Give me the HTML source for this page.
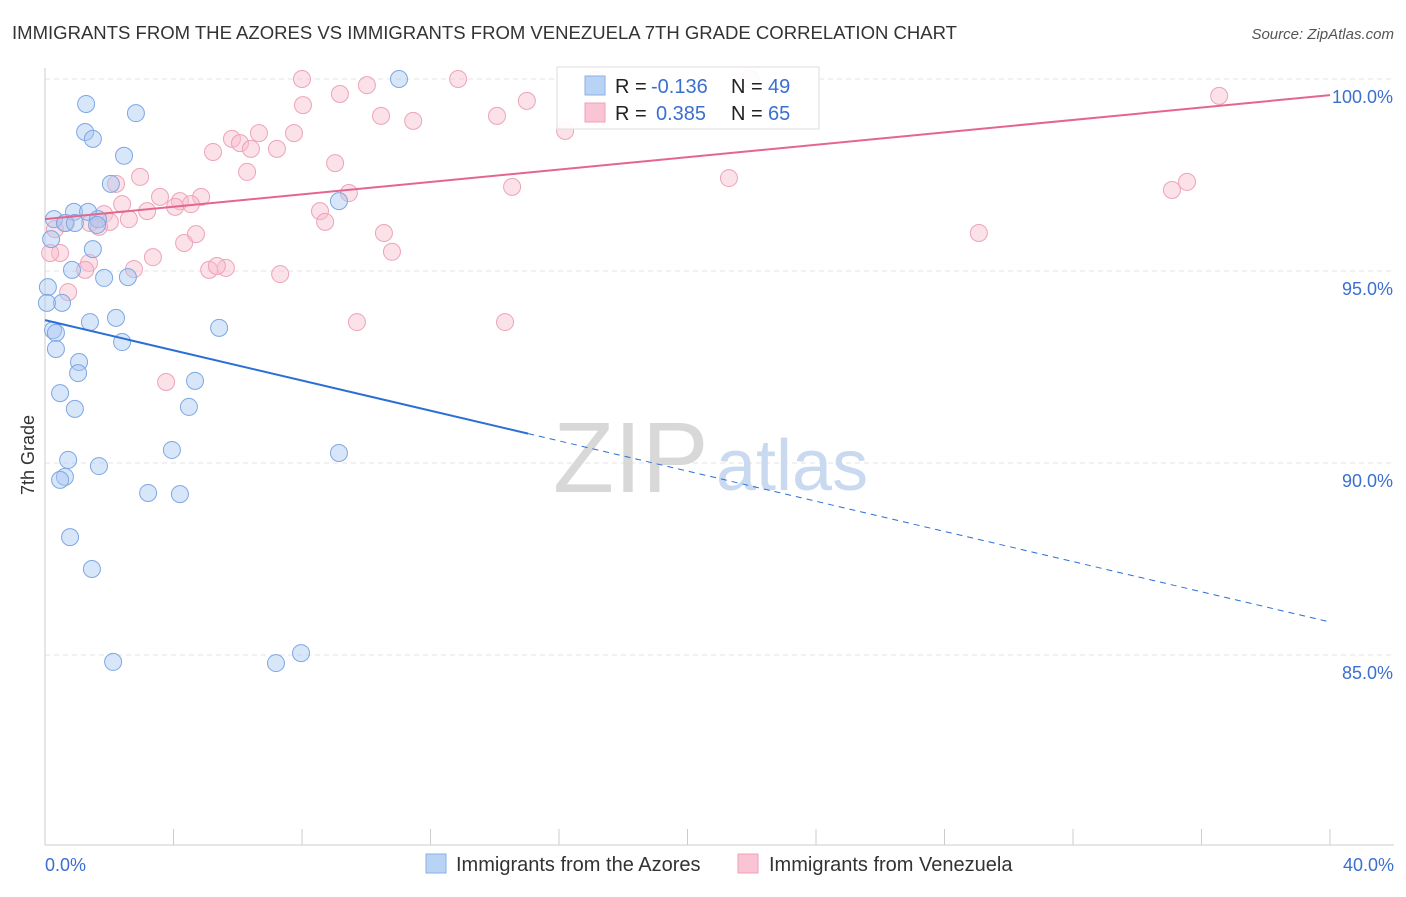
<!DOCTYPE html>
<html><head><meta charset="utf-8">
<style>
body{margin:0;background:#fff;font-family:"Liberation Sans",sans-serif;}
svg text{font-family:"Liberation Sans",sans-serif;}
</style></head>
<body>
<svg id="chart" width="1406" height="892" viewBox="0 0 1406 892">
<text x="12" y="39" font-size="18" fill="#333" textLength="945" lengthAdjust="spacingAndGlyphs">IMMIGRANTS FROM THE AZORES VS IMMIGRANTS FROM VENEZUELA 7TH GRADE CORRELATION CHART</text>
<text x="1394" y="39" font-size="15" fill="#555" font-style="italic" text-anchor="end">Source: ZipAtlas.com</text>
<g id="grid"></g>
<g>
<text x="553" y="492" font-size="100" fill="#d8d8d8" font-family="Liberation Serif, serif">ZIP</text>
<text x="716" y="490" font-size="72" fill="#c9d9ef">atlas</text>
</g>
<g id="axes"></g>
<g id="marks"></g>
<text transform="translate(34,455) rotate(-90)" font-size="18" fill="#333" text-anchor="middle">7th Grade</text>
<g>
<rect x="557" y="67" width="262" height="62" fill="#fff" fill-opacity="0.9" stroke="#ddd"/>
<rect x="585" y="76" width="20" height="19" fill="#b9d3f5" stroke="#8ab0e6"/>
<rect x="585" y="103" width="20" height="19" fill="#f9c5d4" stroke="#f0a0b8"/>
<text x="615" y="93" font-size="20" fill="#222">R =</text>
<text x="651" y="93" font-size="20" fill="#3a6fd0">-0.136</text>
<text x="731" y="93" font-size="20" fill="#222">N =</text>
<text x="768" y="93" font-size="20" fill="#3a6fd0">49</text>
<text x="615" y="120" font-size="20" fill="#222">R =</text>
<text x="656" y="120" font-size="20" fill="#3a6fd0">0.385</text>
<text x="731" y="120" font-size="20" fill="#222">N =</text>
<text x="768" y="120" font-size="20" fill="#3a6fd0">65</text>
</g>
<g>
<rect x="426" y="854" width="20" height="19" fill="#b9d3f5" stroke="#8ab0e6"/>
<text x="456" y="871" font-size="20" fill="#333">Immigrants from the Azores</text>
<rect x="738" y="854" width="20" height="19" fill="#f9c5d4" stroke="#f0a0b8"/>
<text x="769" y="871" font-size="20" fill="#333">Immigrants from Venezuela</text>
</g>
</svg>
<script>
const azoresX=[11.02,1.28,2.83,1.25,1.49,2.46,2.05,9.15,0.28,0.9,1.34,0.62,0.93,1.65,1.62,0.19,1.49,0.84,1.84,2.58,0.09,0.53,0.06,1.4,2.21,5.42,0.25,0.34,2.4,0.34,1.06,1.03,4.67,0.47,0.93,4.48,3.95,9.15,0.72,1.68,0.62,0.47,3.21,4.2,0.78,1.46,2.12,7.19,7.97];
const azoresY=[100,99.35,99.11,98.62,98.44,98.0,97.27,96.82,96.35,96.54,96.54,96.25,96.25,96.35,96.2,95.83,95.57,95.03,94.82,94.84,94.58,94.17,94.17,93.67,93.78,93.52,93.46,93.39,93.15,92.97,92.63,92.34,92.14,91.82,91.41,91.46,90.34,90.26,90.08,89.92,89.64,89.56,89.22,89.19,88.07,87.24,84.82,84.79,85.05];
const venezuelaX=[8.0,12.86,10.02,21.95,9.18,8.03,15.0,36.55,10.46,14.07,11.46,16.19,7.75,6.66,5.82,6.07,5.23,6.41,7.22,9.03,6.29,2.96,2.21,14.54,21.29,35.55,35.08,3.58,9.46,4.86,4.2,4.54,4.05,2.4,3.18,8.56,1.84,2.61,8.72,1.4,2.02,1.68,10.55,4.7,29.07,4.33,0.47,0.16,10.8,3.36,1.37,2.77,5.11,5.63,5.35,7.32,1.25,0.72,9.71,14.32,3.77,0.31,0.65,17.15];
const venezuelaY=[100,100,99.84,100,99.61,99.32,99.43,99.56,99.04,99.04,98.91,98.65,98.59,98.59,98.44,98.33,98.1,98.18,98.18,97.81,97.58,97.45,97.27,97.19,97.42,97.32,97.11,96.93,97.03,96.93,96.82,96.74,96.67,96.74,96.56,96.56,96.48,96.35,96.28,96.25,96.28,96.15,95.99,95.96,95.99,95.73,95.47,95.47,95.5,95.36,95.21,95.05,95.03,95.08,95.13,94.92,95.03,94.45,93.67,93.67,92.11,96.09,96.25,99.97];
const azoresTrend=[93.72,85.86];
const venezuelaTrend=[96.35,99.58];
const yTicks=[100,95,90,85];
const yTickLabels=["100.0%","95.0%","90.0%","85.0%"];
const xTickLabels=["0.0%","40.0%"];

const NS="http://www.w3.org/2000/svg";
const X=v=>45+v*32.125;
const Y=v=>79+(100-v)*38.4;
function mk(tag,attrs,parent){const e=document.createElementNS(NS,tag);for(const k in attrs)e.setAttribute(k,attrs[k]);document.getElementById(parent).appendChild(e);return e;}

yTicks.forEach((t,i)=>{
  const g=mk('line',{x1:45,x2:1394,y1:Y(t),y2:Y(t),stroke:'#e3e3e3','stroke-dasharray':'5,4'},'grid');
  
  
  const l=mk('text',{x:1393,y:Y(t)+24,'font-size':18,fill:'#3a6fd0','text-anchor':'end'},'axes');
  l.textContent=yTickLabels[i];
  
  
});
const ya=mk('line',{x1:45,x2:45,y1:68,y2:845,stroke:'#ccc'},'axes');


const xa=mk('line',{x1:45,x2:1394,y1:845,y2:845,stroke:'#ccc'},'axes');


for(let i=0;i<=10;i++){
  const t=mk('line',{x1:X(i*4),x2:X(i*4),y1:829,y2:845,stroke:'#ccc'},'axes');
  
  
}
[[0,'start',45],[40,'end',1394]].forEach((d,i)=>{
  const l=mk('text',{x:d[2],y:871,'font-size':18,fill:'#3a6fd0','text-anchor':d[1]},'axes');
  l.textContent=xTickLabels[i];
  
  
});

venezuelaX.forEach((x,i)=>{
  const c=mk('circle',{cx:X(x),cy:Y(venezuelaY[i]),r:8.5,fill:'#f7bccd',
    'fill-opacity':0.45,stroke:'#eea3b9','stroke-width':1},'marks');
  
  
});
azoresX.forEach((x,i)=>{
  const c=mk('circle',{cx:X(x),cy:Y(azoresY[i]),r:8.5,fill:'#a9c8f2',
    'fill-opacity':0.45,stroke:'#7ea7e3','stroke-width':1},'marks');
  
  
});
const vt=mk('line',{x1:X(0),y1:Y(venezuelaTrend[0]),x2:X(40),y2:Y(venezuelaTrend[1]),stroke:'#e4668f','stroke-width':2},'marks');


const split=15.04;
const ys=azoresTrend[0]+(azoresTrend[1]-azoresTrend[0])*split/40;
const at=mk('line',{x1:X(0),y1:Y(azoresTrend[0]),x2:X(split),y2:Y(ys),stroke:'#2a6fd6','stroke-width':2},'marks');


const ad=mk('line',{x1:X(split),y1:Y(ys),x2:X(40),y2:Y(azoresTrend[1]),stroke:'#2a6fd6','stroke-width':1,'stroke-dasharray':'6,5'},'marks');


</script>
</body></html>
